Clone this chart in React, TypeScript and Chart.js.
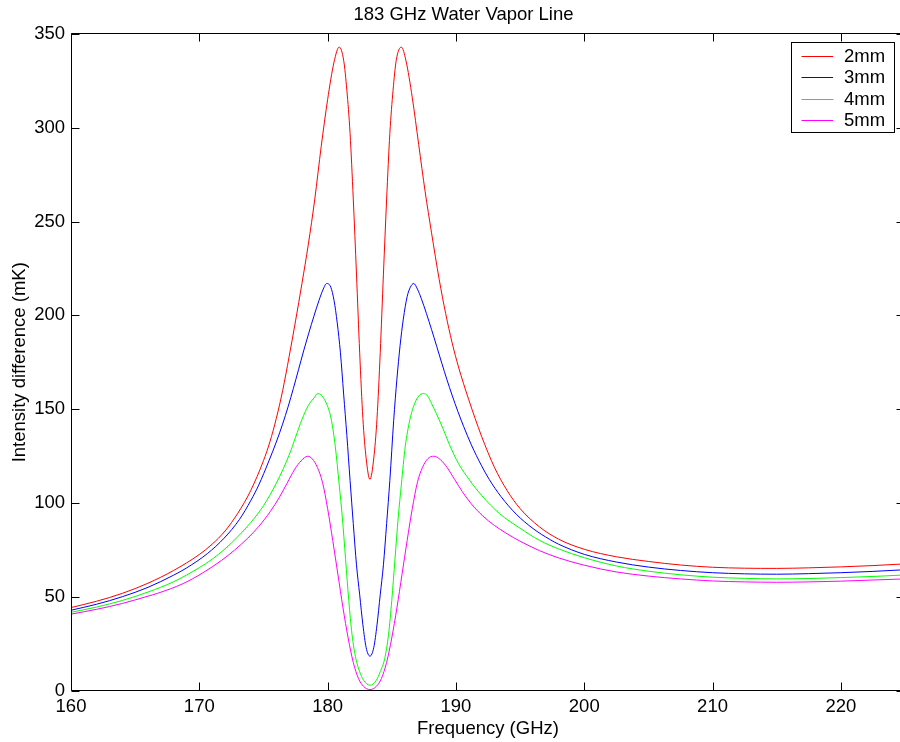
import React, { useEffect, useRef } from "react";
import { Chart, registerables } from "chart.js";

Chart.register(...registerables);

// ---------- text ----------
const TITLE = "183 GHz Water Vapor Line";
const X_LABEL = "Frequency (GHz)";
const Y_LABEL = "Intensity difference (mK)";
const SERIES_LABELS = ["2mm", "3mm", "4mm", "5mm"];
const SERIES_COLORS = ["#ff0000", "#0000ff", "#00ff00", "#ff00ff"];

// ---------- axes ----------
const X_MIN = 160;
const X_MAX = 225;
const X_STEP = 10;
const Y_MIN = 0;
const Y_MAX = 350;
const Y_STEP = 50;

// ---------- data (GHz, mK) ----------
const freq2mm = [
  160, 162, 164, 166, 168, 170, 171, 172, 173, 174,
  175, 175.5, 176, 176.5, 177, 177.5, 178, 178.5, 179, 179.5,
  180, 180.5, 180.9, 181.25, 181.5, 181.75, 182, 182.25, 182.5, 182.75,
  183, 183.3, 183.6, 183.85, 184.1, 184.35, 184.6, 184.85, 185.1, 185.35,
  185.75, 186.1, 186.6, 187.1, 187.6, 188.1, 188.7, 189.2, 189.7, 190.2,
  190.6, 191, 191.5, 192, 193, 194, 195, 196.5, 198, 200,
  202.5, 205, 207.5, 210, 212.5, 215, 217.5, 220, 222.5, 225,
];
const int2mm = [
  44.2, 47.6, 51.8, 57.2, 64, 72.5, 78, 85, 94.5, 106.5,
  122.5, 132.5, 145, 160, 178, 197, 217, 238, 262, 290,
  315, 335, 343, 336, 320, 297, 262, 222, 180, 145,
  124, 112.5, 124, 145, 180, 222, 262, 297, 320, 336,
  343, 336, 316, 291, 266, 244, 219, 201, 185.5, 172.5,
  163.5, 155, 145, 135.5, 119, 106.5, 97, 87.3, 80.7, 75.3,
  71.3, 68.8, 66.9, 65.7, 65.2, 65.1, 65.4, 65.9, 66.6, 67.5,
];

const freq3mm = [
  160, 162, 164, 166, 168, 169, 170.63, 171.93, 173.13, 174.03,
  174.63, 175.43, 176.03, 176.49, 176.93, 177.33, 177.73, 178.13, 178.53, 178.93,
  179.33, 179.63, 179.93, 180.25, 180.5, 180.75, 181, 181.25, 181.5, 181.75,
  182, 182.25, 182.5, 182.75, 183, 183.3, 183.6, 183.85, 184.1, 184.35,
  184.6, 184.85, 185.15, 185.4, 185.65, 185.9, 186.2, 186.45, 186.71, 187,
  187.3, 187.7, 188.1, 188.5, 188.9, 189.3, 189.7, 190.15, 190.6, 191.2,
  192, 192.6, 193.5, 194.7, 196, 197.3, 198, 200, 202.5, 205,
  207.5, 210, 212.5, 215, 217.5, 220, 222.5, 225,
];
const int3mm = [
  42.8, 46, 50, 55, 61.5, 65.3, 73, 81.2, 91.2, 101.5,
  109.5, 122.5, 133, 142, 151.5, 161, 171, 181, 190.5, 199.5,
  208, 213.5, 217, 215, 208, 196, 180, 158, 136, 112,
  89, 67, 51, 35, 23, 18.3, 23, 35, 51, 67,
  89, 112, 144, 166, 184, 198, 210, 215, 217, 214,
  209, 201, 192.5, 183.5, 174.5, 165.7, 157.5, 148.8, 140.8, 131,
  119.8, 112.5, 103.5, 94, 86.4, 80.6, 78, 72.6, 68.5, 65.8,
  64, 62.8, 62.2, 62, 62.3, 62.8, 63.5, 64.4,
];

const freq4mm = [
  160, 162, 164, 166, 168, 170, 171, 172, 173, 174,
  175, 176, 177, 177.5, 178, 178.5, 179, 179.2, 179.5, 180,
  180.3, 180.6, 180.9, 181.15, 181.4, 181.65, 181.9, 182.2, 182.5, 182.8,
  183.3, 183.8, 184.1, 184.45, 184.75, 185, 185.25, 185.5, 185.75, 186.05,
  186.4, 186.7, 187.1, 187.48, 187.8, 188.1, 188.47, 189, 189.5, 190.2,
  191.07, 192, 193.4, 195, 196.5, 198, 200, 202.5, 205, 207.5,
  210, 212.5, 215, 217.5, 220, 222.5, 225,
];
const int4mm = [
  41.7, 44.5, 48, 52.5, 58, 65.5, 70, 75.5, 82, 89.5,
  98.5, 110.5, 125.5, 135, 144.5, 152, 156.5, 158.3, 157.5, 151.5,
  144, 130, 110, 92, 70, 48, 30, 17, 10, 5.5,
  2.8, 5.5, 10, 17, 30, 48, 70, 92, 110, 130,
  144, 151.5, 157, 158.3, 157, 153, 147.7, 139.5, 131, 121,
  112.1, 104, 94.3, 86.5, 80.1, 75.5, 70.8, 66.4, 63.6, 61.7,
  60.4, 59.8, 59.5, 59.7, 60.2, 60.8, 61.6,
];

const freq5mm = [
  160, 162, 164, 166, 166.74, 168.74, 170.24, 171.74, 172.74, 173.74,
  174.64, 175.54, 176.24, 176.84, 177.44, 177.94, 178.45, 178.8, 179.2, 179.6,
  180, 180.4, 180.8, 181.2, 181.6, 182, 182.4, 182.8, 183.3, 183.8,
  184.2, 184.6, 185, 185.4, 185.8, 186.2, 186.6, 187, 187.4, 187.8,
  188.29, 188.8, 189.3, 189.9, 190.5, 191.2, 192.1, 193, 194, 195,
  196.5, 198, 200, 202.5, 205, 207.5, 210, 212.5, 215, 217.5,
  220, 222.5, 225,
];
const int5mm = [
  40.7, 43.3, 46.4, 50.3, 51.8, 57, 62.6, 69.4, 74.8, 81,
  87.5, 95.5, 103, 110.5, 118, 122.5, 124.9, 123.5, 119, 111,
  97, 80, 62, 44, 28, 15, 6.5, 2.2, 0.5, 2.2,
  6.5, 15, 28, 44, 62, 80, 97, 111, 119, 123.5,
  124.9, 123, 119, 112.5, 106, 99.5, 93, 88, 83.5, 79.6,
  74.6, 70.7, 66.8, 63.2, 61, 59.5, 58.4, 57.9, 57.7, 57.9,
  58.3, 58.9, 59.5,
];

const SERIES_FREQS = [freq2mm, freq3mm, freq4mm, freq5mm];
const SERIES_VALUES = [int2mm, int3mm, int4mm, int5mm];

// ---------- styling / layout ----------
const FONT_FAMILY = '"Liberation Sans", Arial, Helvetica, sans-serif';
const FONT_SIZE = 18.5;
const CANVAS_W = 927;
const CANVAS_H = 742;
const Y_AXIS_W = 71;
const RIGHT_PAD_W = 22;
const X_AXIS_H = 51.5;
const TICK_LEN = 8;

function zip(xs: number[], ys: number[]) {
  const n = Math.min(xs.length, ys.length);
  const out: { x: number; y: number }[] = [];
  for (let i = 0; i < n; i++) out.push({ x: xs[i], y: ys[i] });
  return out;
}

const framePlugin = {
  id: "matlabFrame",
  afterDraw(chart: any) {
    const { ctx, chartArea } = chart;
    const { left, right, top, bottom } = chartArea;
    const xs = chart.scales.x;
    const ys = chart.scales.y;
    const L = Math.round(left) + 0.5;
    const R = Math.round(right) - 0.5;
    const T = Math.round(top) - 0.5;
    const B = Math.round(bottom) - 0.5;
    ctx.save();
    ctx.strokeStyle = "#000";
    ctx.lineWidth = 1;
    ctx.beginPath();
    ctx.rect(L, T, R - L, B - T);
    ctx.stroke();
    ctx.beginPath();
    xs.ticks.forEach((t: any) => {
      const px = Math.round(xs.getPixelForValue(t.value)) + 0.5;
      ctx.moveTo(px, B);
      ctx.lineTo(px, B - TICK_LEN);
      ctx.moveTo(px, T);
      ctx.lineTo(px, T + TICK_LEN);
    });
    ys.ticks.forEach((t: any) => {
      const py = Math.round(ys.getPixelForValue(t.value)) + 0.5;
      ctx.moveTo(L, py);
      ctx.lineTo(L + TICK_LEN, py);
      ctx.moveTo(R, py);
      ctx.lineTo(R - TICK_LEN, py);
    });
    ctx.stroke();

    // legend box
    const boxL = 791.5;
    const boxT = 42.5;
    const boxW = 103;
    const boxH = 90;
    ctx.fillStyle = "#fff";
    ctx.fillRect(boxL, boxT, boxW, boxH);
    ctx.strokeStyle = "#000";
    ctx.strokeRect(boxL, boxT, boxW, boxH);
    ctx.font = `${FONT_SIZE}px ${FONT_FAMILY}`;
    ctx.textBaseline = "middle";
    ctx.textAlign = "left";
    chart.data.datasets.forEach((ds: any, i: number) => {
      const y = Math.round(boxT + 13 + i * 21.5) + 0.5;
      ctx.strokeStyle = ds.borderColor;
      ctx.lineWidth = 1;
      ctx.beginPath();
      ctx.moveTo(801.5, y);
      ctx.lineTo(833, y);
      ctx.stroke();
      ctx.fillStyle = "#000";
      ctx.fillText(ds.label, 844, y + 0.5);
    });
    ctx.restore();
  },
};

export default function App() {
  const canvasRef = useRef<HTMLCanvasElement | null>(null);

  useEffect(() => {
    const canvas = canvasRef.current;
    if (!canvas) return;
    const font = { family: FONT_FAMILY, size: FONT_SIZE, weight: "normal" as const, lineHeight: 1.2 };
    const chart = new Chart(canvas, {
      type: "line",
      data: {
        datasets: SERIES_LABELS.map((label, i) => ({
          label,
          data: zip(SERIES_FREQS[i], SERIES_VALUES[i]),
          borderColor: SERIES_COLORS[i],
          backgroundColor: SERIES_COLORS[i],
          borderWidth: 1,
          pointRadius: 0,
          fill: false,
          cubicInterpolationMode: "monotone" as const,
          xAxisID: "x",
          yAxisID: "y",
        })),
      },
      options: {
        responsive: false,
        animation: false,
        devicePixelRatio: 1,
        layout: { padding: 0 },
        events: [],
        plugins: {
          legend: { display: false },
          tooltip: { enabled: false },
          title: {
            display: true,
            text: TITLE,
            color: "#000",
            font,
            padding: { top: 4, bottom: 7.8 },
          },
        },
        scales: {
          x: {
            type: "linear",
            min: X_MIN,
            max: X_MAX,
            grid: { display: false, drawTicks: false },
            border: { display: false },
            ticks: {
              stepSize: X_STEP,
              includeBounds: false,
              autoSkip: false,
              maxRotation: 0,
              color: "#000",
              font,
              padding: 5.5,
            },
            title: {
              display: true,
              text: X_LABEL,
              color: "#000",
              font,
              padding: { top: 0, bottom: 2.1 },
            },
            afterFit: (s: any) => {
              s.height = X_AXIS_H;
            },
          },
          y: {
            type: "linear",
            position: "left",
            min: Y_MIN,
            max: Y_MAX,
            grid: { display: false, drawTicks: false },
            border: { display: false },
            ticks: {
              stepSize: Y_STEP,
              autoSkip: false,
              color: "#000",
              font,
              padding: 6,
            },
            title: {
              display: true,
              text: Y_LABEL,
              color: "#000",
              font,
              padding: { top: 9, bottom: 0 },
            },
            afterFit: (s: any) => {
              s.width = Y_AXIS_W;
            },
          },
          yRight: {
            type: "linear",
            position: "right",
            display: true,
            min: Y_MIN,
            max: Y_MAX,
            grid: { display: false, drawTicks: false },
            border: { display: false },
            ticks: { display: false },
            afterFit: (s: any) => {
              s.width = RIGHT_PAD_W;
            },
          },
        },
      },
      plugins: [framePlugin],
    });
    return () => chart.destroy();
  }, []);

  return (
    <div
      style={{
        position: "fixed",
        left: 0,
        top: 0,
        width: 900,
        height: 742,
        overflow: "hidden",
        background: "#fff",
      }}
    >
      <canvas
        ref={canvasRef}
        width={CANVAS_W}
        height={CANVAS_H}
        style={{ display: "block", width: CANVAS_W, height: CANVAS_H }}
      />
    </div>
  );
}
